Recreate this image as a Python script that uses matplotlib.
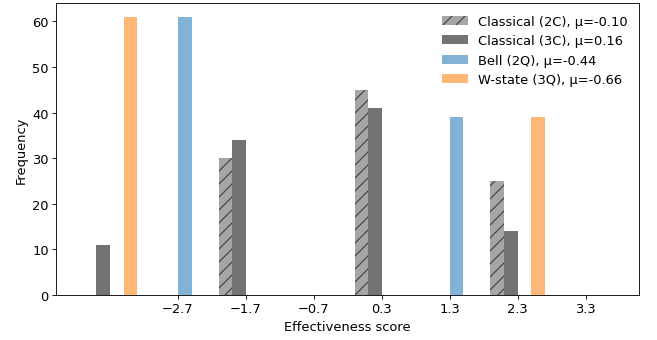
import numpy as np
import matplotlib
matplotlib.use('Agg')
from matplotlib import pyplot as plt

# bin centres of the score histogram (bin width 1)
centers = [-3.7, -2.7, -1.7, -0.7, 0.3, 1.3, 2.3, 3.3]

# counts per bin
classical_2c = [0, 0, 30, 0, 45, 0, 25, 0]
classical_3c = [11, 0, 34, 0, 41, 0, 14, 0]
bell_2q = [0, 61, 0, 0, 0, 39, 0, 0]
w_state_3q = [61, 0, 0, 0, 0, 0, 39, 0]

labels = ['Classical (2C), μ=-0.10', 'Classical (3C), μ=0.16',
          'Bell (2Q), μ=-0.44', 'W-state (3Q), μ=-0.66']
tick_values = [-2.7, -1.7, -0.7, 0.3, 1.3, 2.3, 3.3]

colors = ['#a6a6a6', '#737373', '#82b3d6', '#ffb778']

plt.rcParams['font.size'] = 12

edges = np.append(np.array(centers) - 0.5, centers[-1] + 0.5)

dpi = 78
fig = plt.figure(figsize=(657 / dpi, 341 / dpi), dpi=dpi)
ax = fig.add_axes([0.0857, 0.1328, 0.8873, 0.8555])

n, bins, patches = ax.hist([centers] * 4, bins=edges,
                           weights=[classical_2c, classical_3c, bell_2q, w_state_3q],
                           color=colors, label=labels, rwidth=0.8)

# hatch the two-classical series
for p in patches[0]:
    p.set_hatch('//')
    p.set_edgecolor('#3c3c3c')
    p.set_linewidth(0)

ax.set_xticks(tick_values)
ax.set_xlabel('Effectiveness score')
ax.set_ylabel('Frequency')
ax.legend(loc='upper right', frameon=False)

fig.savefig('out.png', dpi=dpi)
